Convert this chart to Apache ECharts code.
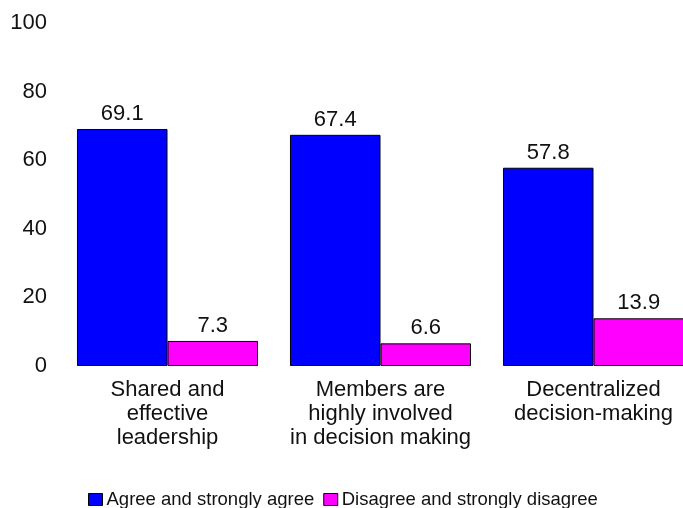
<!DOCTYPE html>
<html>
<head>
<meta charset="utf-8">
<script src="https://cdn.jsdelivr.net/npm/echarts@6/dist/echarts.min.js"></script>
<style>
  html, body { margin: 0; padding: 0; background: #fff; }
  #chart { width: 683px; height: 508px; }
</style>
</head>
<body>
<div id="chart"></div>
<script>
// Survey categories (multi-line labels) and percentage values per response group
const categories = [
  'Shared and\neffective\nleadership',
  'Members are\nhighly involved\nin decision making',
  'Decentralized\ndecision-making'
];
const agreeValues = [69.1, 67.4, 57.8];
const disagreeValues = [7.3, 6.6, 13.9];
const seriesNames = ['Agree and strongly agree', 'Disagree and strongly disagree'];
const yTicks = { min: 0, max: 100, interval: 20 };

const FONT = '"Liberation Sans", Arial, sans-serif';
const chart = echarts.init(document.getElementById('chart'), null, { renderer: 'canvas' });

function barSeries(name, data, color) {
  return {
    name: name,
    type: 'bar',
    data: data,
    barGap: '0%',
    barCategoryGap: '15%',
    itemStyle: { color: color, borderColor: '#000', borderWidth: 1 },
    label: {
      show: true,
      position: 'top',
      distance: 4,
      color: '#111',
      fontFamily: FONT,
      fontSize: 22,
      formatter: p => p.value.toFixed(1)
    },
    emphasis: { disabled: true }
  };
}

chart.setOption({
  animation: false,
  backgroundColor: '#fff',
  // the last group runs past the right edge of the canvas
  grid: {
    left: 61, width: 639, top: 23, bottom: 142,
    containLabel: false,
    outerBoundsMode: 'none'
  },
  xAxis: {
    type: 'category',
    data: categories,
    axisLine: { show: false },
    axisTick: { show: false },
    axisLabel: {
      color: '#111',
      fontFamily: FONT,
      fontSize: 22,
      lineHeight: 24,
      margin: 12,
      interval: 0
    }
  },
  yAxis: {
    type: 'value',
    min: yTicks.min,
    max: yTicks.max,
    interval: yTicks.interval,
    axisLine: { show: false },
    axisTick: { show: false },
    splitLine: { show: false },
    axisLabel: {
      color: '#111',
      fontFamily: FONT,
      fontSize: 22,
      margin: 14
    }
  },
  legend: {
    left: 88,
    top: 490,
    padding: 0,
    itemWidth: 14,
    itemHeight: 12,
    itemGap: 9,
    icon: 'rect',
    itemStyle: { borderColor: '#000', borderWidth: 1 },
    textStyle: {
      color: '#111',
      fontFamily: FONT,
      fontSize: 18.5,
      padding: [0, 0, 0, -1]
    },
    data: seriesNames
  },
  series: [
    barSeries(seriesNames[0], agreeValues, '#0000FF'),
    barSeries(seriesNames[1], disagreeValues, '#FF00FF')
  ]
});
</script>
</body>
</html>
